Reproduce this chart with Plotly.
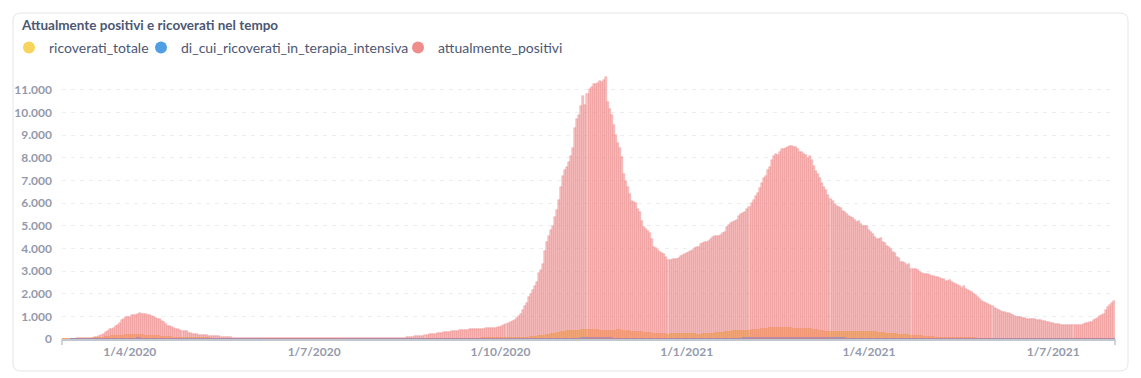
import pandas as pd
import plotly.graph_objects as go

# ---- data (daily, 28/2/2020 .. 31/7/2021) ----
start_date = "2020-02-28"
end_date = "2021-07-31"

attualmente_positivi = [
    3, 5,
    5, 8, 12, 18, 22, 25, 28, 30, 33, 36, 38, 40, 42, 50, 75, 100, 130, 170, 210, 290, 340, 420, 460, 500, 590, 640, 720, 830, 880, 950, 970,
    990, 1040, 1050, 1075, 1090, 1130, 1110, 1100, 1100, 1080, 1050, 1010, 980, 930, 900, 870, 800, 730, 680, 590, 560, 530, 490, 460, 420, 400, 360, 350, 340, 280,
    250, 225, 215, 205, 195, 190, 170, 165, 160, 125, 120, 120, 118, 118, 115, 90, 78, 76, 75, 75, 74, 50, 48, 47, 46, 45, 45, 44, 43, 42, 42,
    41, 40, 40, 39, 38, 38, 37, 36, 35, 35, 34, 34, 33, 33, 32, 32, 31, 31, 30, 30, 30, 29, 29, 28, 28, 28, 27, 27, 27, 26,
    26, 26, 25, 25, 25, 24, 24, 24, 24, 25, 25, 25, 26, 26, 26, 27, 27, 27, 28, 28, 28, 29, 29, 30, 30, 30, 31, 31, 32, 32, 33,
    33, 34, 34, 35, 36, 37, 38, 40, 42, 44, 46, 50, 55, 60, 65, 70, 75, 85, 100, 115, 120, 130, 140, 150, 165, 185, 205, 220, 230, 240, 255,
    265, 280, 290, 300, 315, 325, 335, 350, 360, 370, 385, 400, 410, 415, 415, 420, 430, 455, 460, 440, 440, 455, 460, 465, 470, 475, 480, 490, 500, 510,
    530, 560, 600, 670, 700, 730, 790, 860, 940, 1020, 1120, 1300, 1450, 1600, 1850, 2000, 2180, 2350, 2500, 2900, 3050, 3300, 3900, 4300, 4550, 4800, 4980, 5400, 5700, 6150, 6700,
    7200, 7450, 7600, 7800, 8100, 8450, 9300, 9700, 9900, 10300, 10750, 10350, 10800, 11050, 11150, 11250, 11280, 11320, 11400, 11360, 11420, 11580, 10480, 10180, 9900, 9450, 9000, 8640, 8420, 8050,
    7300, 7000, 6720, 6400, 6100, 6030, 5990, 5750, 5600, 5200, 4950, 4850, 4750, 4700, 4400, 4050, 4000, 3930, 3850, 3800, 3760, 3600, 3480, 3480, 3520, 3520, 3530, 3560, 3650, 3700, 3770,
    3820, 3850, 3880, 3950, 4030, 4060, 4070, 4200, 4230, 4270, 4300, 4330, 4430, 4520, 4570, 4540, 4550, 4610, 4680, 4720, 4950, 5050, 5120, 5170, 5200, 5270, 5450, 5510, 5560, 5620, 5760,
    5850, 6010, 6160, 6300, 6430, 6650, 6870, 7130, 7200, 7450, 7600, 7900, 8100, 8160, 8120, 8260, 8410, 8400, 8420, 8480, 8520, 8520, 8470, 8460, 8380, 8280, 8270, 8190,
    8120, 7980, 8070, 7900, 7650, 7420, 7300, 7100, 6880, 6700, 6560, 6380, 6200, 6090, 5960, 5870, 5840, 5800, 5660, 5600, 5540, 5420, 5380, 5360, 5260, 5180, 5230, 5100, 4970, 4990, 5010,
    4800, 4720, 4620, 4520, 4400, 4430, 4440, 4300, 4230, 4110, 4050, 3980, 3860, 3780, 3640, 3570, 3420, 3400, 3350, 3270, 3300, 3110, 3090, 3080, 3040, 2960, 2920, 2890, 2870, 2850,
    2810, 2790, 2770, 2750, 2740, 2700, 2670, 2630, 2570, 2550, 2620, 2520, 2480, 2440, 2380, 2330, 2270, 2330, 2230, 2160, 2100, 2060, 2000, 1930, 1860, 1750, 1680, 1630, 1590, 1540, 1510,
    1450, 1380, 1340, 1280, 1250, 1210, 1190, 1170, 1130, 1110, 1060, 1000, 975, 970, 965, 940, 920, 880, 870, 870, 865, 870, 860, 850, 820, 790, 780, 770, 750, 720,
    690, 670, 660, 650, 630, 610, 605, 605, 600, 600, 600, 600, 600, 605, 610, 650, 700, 720, 740, 770, 820, 870, 930, 1000, 1050, 1120, 1260, 1400, 1510, 1600, 1700,
]

ricoverati_totale = [
    1, 2,
    3, 4, 5, 6, 8, 10, 12, 14, 16, 20, 25, 30, 38, 45, 55, 65, 80, 95, 110, 125, 140, 150, 160, 170, 178, 185, 190, 195, 198, 200, 202,
    205, 208, 210, 210, 208, 205, 200, 198, 195, 190, 185, 180, 172, 165, 158, 150, 142, 135, 128, 120, 112, 106, 100, 95, 90, 86, 82, 78, 75, 72,
    70, 67, 64, 60, 57, 55, 52, 50, 48, 46, 44, 42, 40, 38, 37, 36, 34, 33, 32, 31, 30, 29, 28, 27, 26, 25, 24, 24, 23, 22, 22,
    21, 21, 20, 20, 19, 19, 18, 18, 17, 17, 17, 16, 16, 16, 15, 15, 15, 15, 14, 14, 14, 14, 14, 13, 13, 13, 13, 13, 13, 12,
    12, 12, 12, 12, 12, 12, 13, 13, 13, 13, 14, 14, 14, 14, 15, 15, 15, 15, 15, 16, 16, 16, 16, 16, 17, 17, 17, 17, 17, 18, 18,
    18, 18, 18, 19, 19, 19, 19, 20, 20, 20, 20, 21, 21, 21, 22, 22, 22, 23, 23, 24, 24, 25, 25, 26, 26, 27, 28, 28, 29, 30, 30,
    31, 32, 32, 33, 34, 34, 35, 36, 36, 37, 38, 38, 39, 40, 40, 41, 42, 42, 43, 44, 44, 45, 46, 46, 47, 48, 48, 49, 50, 50,
    52, 54, 56, 58, 60, 63, 66, 70, 74, 78, 82, 88, 94, 100, 108, 116, 125, 135, 145, 155, 168, 180, 195, 210, 228, 245, 265, 285, 305, 322, 338,
    355, 370, 385, 392, 398, 402, 405, 410, 415, 420, 425, 430, 445, 460, 440, 430, 425, 420, 410, 400, 390, 388, 385, 390, 395, 400, 410, 420, 430, 410,
    385, 370, 378, 365, 355, 352, 348, 345, 340, 330, 320, 310, 300, 290, 280, 275, 270, 265, 258, 250, 244, 237, 240, 245, 250, 260, 272, 280, 275, 270, 268,
    265, 262, 258, 250, 246, 242, 237, 240, 248, 256, 265, 270, 275, 280, 290, 300, 310, 318, 325, 332, 340, 355, 370, 385, 392, 398, 400, 395, 390, 385, 395,
    410, 420, 430, 440, 450, 460, 470, 485, 500, 505, 510, 512, 515, 518, 520, 520, 520, 520, 518, 515, 510, 505, 500, 495, 490, 485, 480, 478,
    475, 470, 465, 460, 445, 425, 410, 395, 380, 365, 355, 350, 345, 342, 340, 340, 340, 340, 340, 340, 345, 350, 355, 360, 365, 368, 370, 370, 370, 370, 368,
    365, 360, 350, 340, 325, 310, 300, 290, 282, 275, 270, 265, 255, 245, 235, 225, 218, 212, 208, 200, 192, 185, 180, 174, 168, 164, 155, 146, 138, 130,
    124, 119, 114, 110, 106, 102, 98, 94, 90, 85, 80, 75, 70, 65, 60, 58, 56, 54, 52, 50, 48, 46, 45, 44, 43, 42, 41, 40, 39, 38, 37,
    36, 35, 34, 33, 32, 31, 30, 30, 29, 28, 28, 27, 27, 26, 26, 25, 25, 24, 24, 24, 23, 23, 23, 22, 22, 22, 22, 21, 21, 21,
    21, 21, 20, 20, 20, 20, 20, 20, 20, 21, 21, 21, 21, 22, 22, 22, 23, 23, 24, 24, 25, 26, 27, 28, 29, 30, 31, 32, 33, 34, 35,
]

terapia_intensiva = [
    0, 0,
    0, 0, 1, 1, 1, 2, 2, 3, 3, 4, 5, 6, 7, 8, 10, 12, 14, 16, 18, 20, 22, 24, 26, 28, 30, 32, 34, 36, 38, 40, 41,
    42, 43, 44, 44, 45, 45, 44, 44, 43, 42, 41, 40, 38, 37, 36, 34, 33, 32, 30, 29, 28, 26, 25, 24, 22, 21, 20, 19, 18, 17,
    16, 15, 14, 13, 12, 12, 11, 10, 10, 9, 9, 8, 8, 7, 7, 7, 6, 6, 6, 5, 5, 5, 5, 4, 4, 4, 4, 4, 3, 3, 3,
    3, 3, 3, 3, 2, 2, 2, 2, 2, 2, 2, 2, 2, 1, 1, 1, 1, 1, 1, 1, 1, 1, 1, 1, 1, 1, 1, 1, 1, 1,
    1, 1, 1, 1, 1, 1, 1, 1, 1, 1, 1, 1, 1, 1, 1, 1, 1, 1, 1, 1, 1, 1, 1, 1, 1, 1, 1, 1, 1, 1, 1,
    1, 1, 1, 1, 1, 1, 1, 1, 1, 1, 1, 1, 1, 1, 1, 1, 1, 1, 1, 1, 2, 2, 2, 2, 2, 2, 2, 2, 2, 2, 3,
    3, 3, 3, 3, 3, 3, 3, 4, 4, 4, 4, 4, 4, 4, 5, 5, 5, 5, 5, 5, 5, 6, 6, 6, 6, 6, 6, 7, 7, 7,
    7, 7, 8, 8, 8, 9, 9, 10, 10, 11, 12, 12, 13, 14, 15, 16, 17, 18, 19, 20, 21, 22, 24, 25, 26, 28, 29, 30, 32, 33, 35,
    36, 37, 38, 39, 40, 41, 42, 43, 44, 45, 45, 46, 46, 47, 47, 48, 48, 48, 48, 47, 47, 46, 46, 45, 45, 44, 44, 43, 42, 42,
    41, 40, 40, 39, 38, 37, 36, 35, 34, 33, 32, 31, 30, 29, 28, 27, 27, 26, 25, 25, 24, 24, 23, 23, 23, 23, 23, 24, 24, 24, 25,
    25, 25, 26, 26, 26, 27, 27, 27, 28, 28, 29, 29, 30, 30, 31, 32, 33, 34, 35, 36, 37, 38, 39, 40, 41, 42, 43, 44, 45, 46, 47,
    48, 49, 50, 51, 52, 54, 56, 58, 60, 62, 63, 64, 65, 66, 67, 68, 68, 69, 69, 70, 70, 70, 69, 69, 68, 68, 67, 66,
    65, 64, 63, 62, 61, 60, 58, 57, 56, 55, 54, 53, 52, 51, 50, 49, 48, 47, 46, 45, 44, 44, 43, 42, 41, 40, 39, 38, 37, 36, 35,
    34, 33, 32, 31, 30, 29, 28, 27, 26, 25, 24, 23, 22, 21, 20, 19, 18, 18, 17, 16, 15, 15, 14, 13, 13, 12, 12, 11, 11, 10,
    10, 10, 9, 9, 9, 8, 8, 8, 7, 7, 7, 7, 6, 6, 6, 6, 5, 5, 5, 5, 5, 4, 4, 4, 4, 4, 4, 3, 3, 3, 3,
    3, 3, 3, 3, 3, 3, 2, 2, 2, 2, 2, 2, 2, 2, 2, 2, 2, 2, 2, 2, 2, 2, 2, 2, 2, 2, 2, 2, 2, 2,
    2, 2, 2, 2, 2, 2, 2, 2, 2, 2, 2, 2, 2, 2, 2, 2, 2, 2, 2, 2, 2, 2, 2, 3, 3, 3, 3, 3, 3, 3, 3,
]

series_names = ["ricoverati_totale", "di_cui_ricoverati_in_terapia_intensiva", "attualmente_positivi"]
series_colors = ["#F9D45C", "#509EE3", "#EF8C8C"]
y_ticks = [0, 1000, 2000, 3000, 4000, 5000, 6000, 7000, 8000, 9000, 10000, 11000]
x_ticks = ["2020-04-01", "2020-07-01", "2020-10-01", "2021-01-01", "2021-04-01", "2021-07-01"]
chart_title = "Attualmente positivi e ricoverati nel tempo"

dates = pd.date_range(start_date, end_date, freq="D")
for nm, s in [("positivi", attualmente_positivi), ("ricoverati", ricoverati_totale), ("ti", terapia_intensiva)]:
    if len(s) != len(dates):
        raise ValueError(f"{nm}: {len(s)} values for {len(dates)} dates")

W, H = 1141, 378
L, R, T, B = 62, 26, 75, 39
pw, ph = W - L - R, H - T - B
DAY_MS = 86400000

fig = go.Figure()
series_values = [ricoverati_totale, terapia_intensiva, attualmente_positivi]
for name, color, vals in zip(series_names, series_colors, series_values):
    if name == "attualmente_positivi":
        marker = dict(color="rgba(239,140,140,0.5)", line=dict(color="rgba(236,125,125,0.75)", width=0.5))
        w = 1.0 * DAY_MS
    else:
        marker = dict(color=color, line=dict(width=0))
        w = 1.5 * DAY_MS
    fig.add_trace(go.Bar(
        x=dates, y=vals, name=name, width=w, marker=marker,
        showlegend=False, hovertemplate="%{x|%-d/%-m/%Y}: %{y}<extra>" + name + "</extra>",
    ))

# legend entries with round markers (one legend box per entry, to place them like the original)
legend_ids = ["legend", "legend2", "legend3"]
legend_x = [9, 141, 398]
for name, color, lid in zip(series_names, series_colors, legend_ids):
    fig.add_trace(go.Scatter(
        x=[None], y=[None], mode="markers", name=name, legend=lid,
        marker=dict(color=color, size=12, symbol="circle"),
        showlegend=True, hoverinfo="skip",
    ))

def px_x(p):
    return (p - L) / pw

def px_y(p):
    return (H - B - p) / ph

# card outline
x0, x1 = px_x(13), px_x(1128)
yt, yb = px_y(13), px_y(371)
rx, ry = 8 / pw, 8 / ph
card = (f"M {x0+rx},{yt} L {x1-rx},{yt} Q {x1},{yt} {x1},{yt-ry} L {x1},{yb+ry} "
        f"Q {x1},{yb} {x1-rx},{yb} L {x0+rx},{yb} Q {x0},{yb} {x0},{yb+ry} "
        f"L {x0},{yt-ry} Q {x0},{yt} {x0+rx},{yt} Z")

axis_col = "#C2C6CF"
shapes = [
    dict(type="path", path=card, xref="paper", yref="paper", layer="below",
         line=dict(color="#E4E6EA", width=1), fillcolor="white"),
    dict(type="line", xref="paper", yref="paper", x0=0, x1=0, y0=0, y1=-6 / ph,
         line=dict(color=axis_col, width=1.5)),
    dict(type="line", xref="paper", yref="paper", x0=1, x1=1, y0=0, y1=-6 / ph,
         line=dict(color=axis_col, width=1.5)),
]

font_fam = "Lato, 'Open Sans', sans-serif"
tick_col = "#949AAB"

legend_common = dict(orientation="h", xref="container", yref="container",
                     xanchor="left", y=1 - 48 / H, yanchor="middle",
                     font=dict(size=14, color="#4C5773", family=font_fam),
                     itemwidth=30, bgcolor="rgba(0,0,0,0)")

fig.update_layout(
    width=W, height=H,
    margin=dict(l=L, r=R, t=T, b=B, autoexpand=False),
    paper_bgcolor="white", plot_bgcolor="white",
    barmode="overlay",
    separators=",.",
    font=dict(family=font_fam, color="#4C5773"),
    title=dict(text="<b>" + chart_title + "</b>", xref="container", yref="container",
               x=22 / W, xanchor="left", y=1 - 25 / H, yanchor="middle",
               font=dict(size=13.5, color="#4C5773", family=font_fam)),
    legend=dict(x=legend_x[0] / W, **legend_common),
    legend2=dict(x=legend_x[1] / W, **legend_common),
    legend3=dict(x=legend_x[2] / W, **legend_common),
    xaxis=dict(
        type="date",
        range=["2020-02-27 12:00", "2021-07-31 12:00"],
        tickvals=x_ticks, tickformat="%-d/%-m/%Y",
        showgrid=False, zeroline=False,
        showline=True, linecolor=axis_col, linewidth=1.5,
        ticks="", ticklabelstandoff=1,
        tickfont=dict(size=12, color=tick_col, family=font_fam, weight="bold"),
    ),
    yaxis=dict(
        range=[0, 11660],
        tickvals=y_ticks, tickformat=",d",
        showgrid=True, gridcolor="#EDEEF0", griddash="4px,5px", gridwidth=1,
        zeroline=False, showline=False, ticks="", ticklabelstandoff=9,
        tickfont=dict(size=12, color=tick_col, family=font_fam, weight="bold"),
    ),
    shapes=shapes,
    bargap=0,
)

fig.write_html("out.html", config={"displayModeBar": False},
               post_script="document.body.style.margin='0px';")
